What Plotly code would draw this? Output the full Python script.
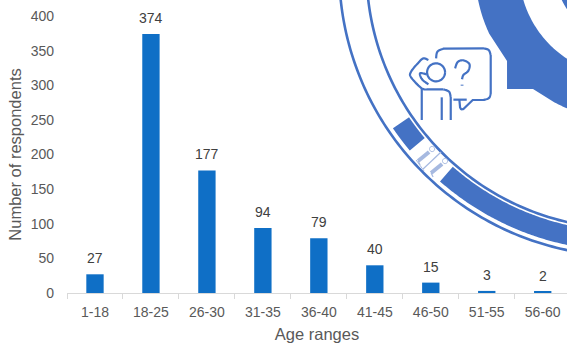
import numpy as np
import plotly.graph_objects as go

age_ranges = ["1-18", "18-25", "26-30", "31-35", "36-40", "41-45", "46-50", "51-55", "56-60"]
respondents = [27, 374, 177, 94, 79, 40, 15, 3, 2]

W, H = 567, 347
L, T, B = 66.7, 16, 54
BAR = "#0F6FC6"
GREY = "#595959"
DECOR = "#4472C4"
FAINT = "#A6B9E0"
CX, CY = 625, -30


def to_paper(x, y):
    """Page pixels to paper coordinates."""
    return (x - L) / (W - L), 1 - (y - T) / (H - T - B)


def poly(points, close=True):
    parts = []
    for i, (x, y) in enumerate(points):
        u, v = to_paper(x, y)
        parts.append(f"{'M' if i == 0 else 'L'}{u:.5f},{v:.5f}")
    return " ".join(parts) + (" Z" if close else "")


def arc_pts(r, a0, a1, n=120):
    t = np.radians(np.linspace(a0, a1, n))
    return [(CX + r * np.cos(a), CY + r * np.sin(a)) for a in t]


def fill_shape(points, color=DECOR):
    return dict(type="path", xref="paper", yref="paper", path=poly(points),
                fillcolor=color, line=dict(width=0), layer="above")


def stroke_shape(points, width=2.2, color=DECOR):
    return dict(type="path", xref="paper", yref="paper", path=poly(points, close=False),
                line=dict(color=color, width=width), layer="above")


def band(r0, r1, a0, a1):
    return arc_pts(r1, a0, a1) + arc_pts(r0, a1, a0)


def smooth(pts, n=10):
    """Catmull-Rom pass through the outline points of an icon."""
    p = np.array(pts, float)
    p = np.vstack([p[0], p, p[-1]])
    out = []
    for i in range(1, len(p) - 2):
        for t in np.linspace(0, 1, n, endpoint=False):
            out.append(0.5 * ((2 * p[i]) + (-p[i - 1] + p[i + 1]) * t
                              + (2 * p[i - 1] - 5 * p[i] + 4 * p[i + 1] - p[i + 2]) * t ** 2
                              + (-p[i - 1] + 3 * p[i] - 3 * p[i + 1] + p[i + 2]) * t ** 3))
    out.append(p[-1])
    return [tuple(q) for q in out]


def icon(pts):
    # icon outlines are sketched on a 3x grid anchored at (400, 40)
    return [(400 + x / 3, 40 + y / 3) for x, y in pts]


shapes = []

# rings and bands of the seal behind the chart
shapes.append(stroke_shape(arc_pts(286, 85, 187), 2.6))
shapes.append(stroke_shape(arc_pts(258.6, 85, 187), 2.6))
shapes.append(fill_shape(band(261.5, 281, 85, 131.2)))
shapes.append(fill_shape(band(261.5, 281, 140, 145.7)))

# inner heavy ring with its square notch
shapes.append(fill_shape(
    arc_pts(150, 60, 118) + [(533, 89), (507, 89), (507, 61)] + arc_pts(150, 155, 190)
    + arc_pts(106, 190, 60)))
shapes.append(fill_shape(arc_pts(70, -90, 190) + [(CX, CY)]))

# person and speech bubble
bubble = [(108, 55)] + smooth([(108, 55), (112, 35), (130, 26)], 6) + [(250, 25)] + \
    smooth([(250, 25), (266, 30), (272, 46)], 6) + [(272, 160)] + \
    smooth([(272, 160), (267, 174), (250, 180)], 6) + [(218, 180), (190, 207)] + \
    smooth([(190, 207), (184, 208), (180, 202)], 4) + [(178, 180)]
shapes.append(stroke_shape(icon(bubble)))
shapes.append(stroke_shape(icon([(160, 179), (200, 179)])))
shapes.append(stroke_shape(icon(smooth([(165, 85), (173, 66), (190, 61), (208, 72), (205, 92),
                                        (190, 105), (186, 118)]))))
shapes.append(stroke_shape(icon([(186, 134), (186, 137)]), 2.8))
head = [(108 + 27 * np.cos(a), 97 + 27 * np.sin(a)) for a in np.linspace(0, 2 * np.pi, 50)]
shapes.append(stroke_shape(icon(head)))
arm = smooth([(85, 60), (70, 55), (55, 68), (33, 95), (33, 112), (65, 145), (85, 148)])
shapes.append(stroke_shape(icon(arm) + icon([(130, 148)])))
shapes.append(stroke_shape(icon(smooth([(80, 103), (60, 100), (66, 118), (85, 133)]))))
shapes.append(stroke_shape(icon(smooth([(130, 148), (147, 155), (152, 172)]) + [(152, 240)])))
shapes.append(stroke_shape(icon([(65, 145), (65, 240)])))
shapes.append(stroke_shape(icon([(125, 172), (125, 240)])))

# tiny figures in the gap of the band
for hx, hy in [(432, 149), (445, 161)]:
    h = [(hx + 2.6 * np.cos(a), hy + 2.6 * np.sin(a)) for a in np.linspace(0, 2 * np.pi, 20)]
    shapes.append(stroke_shape(h, 1.0, FAINT))
    shapes.append(stroke_shape([(hx - 3, hy + 3), (hx - 14, hy + 12)], 4.0, FAINT))
    shapes.append(stroke_shape([(hx - 14, hy + 12), (hx - 12, hy + 16)], 1.2, FAINT))
shapes.append(stroke_shape([(441, 152), (423, 169)], 1.2, FAINT))
shapes.append(stroke_shape([(416, 160), (424, 171)], 1.0, FAINT))

fig = go.Figure(go.Bar(x=age_ranges, y=respondents, marker=dict(color=BAR, line=dict(width=0))))

for name, value in zip(age_ranges, respondents):
    fig.add_annotation(x=name, y=value, text=str(value), showarrow=False, yanchor="bottom",
                       yshift=6, font=dict(family="Liberation Sans", size=14, color="#404040"))

fig.update_layout(
    width=W, height=H, margin=dict(l=L, r=0, t=T, b=B, pad=0),
    paper_bgcolor="white", plot_bgcolor="white", showlegend=False, bargap=0.69,
    font=dict(family="Liberation Sans", size=14, color=GREY), shapes=shapes,
)
fig.update_xaxes(
    type="category", range=[-0.5, -0.5 + (W - L) / 56], tickson="boundaries", ticks="outside",
    ticklen=5, tickcolor="#D9D9D9", tickwidth=1, showline=True, linecolor="#D9D9D9", linewidth=1,
    showgrid=False, ticklabelstandoff=6, tickfont=dict(size=14, color=GREY),
    title=dict(text="Age ranges", font=dict(size=16.5, color=GREY), standoff=9),
)
fig.update_yaxes(
    range=[0, 400], tickvals=[0, 50, 100, 150, 200, 250, 300, 350, 400], showgrid=False,
    showline=False, ticks="", ticklabelstandoff=12, zeroline=False, tickfont=dict(size=14, color=GREY),
    title=dict(text="Number of respondents", font=dict(size=16.5, color=GREY), standoff=4),
)

fig.write_html("out.html", config=dict(displayModeBar=False))
